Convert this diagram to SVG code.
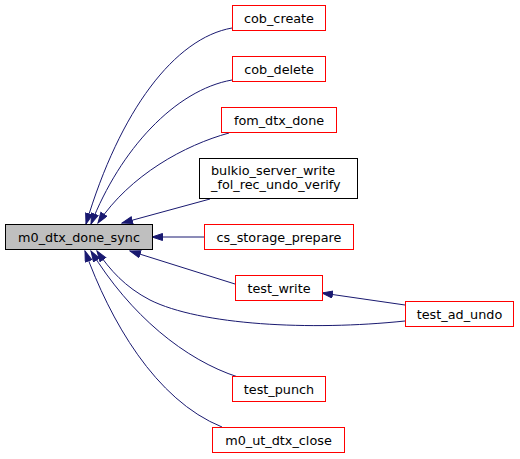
<svg xmlns="http://www.w3.org/2000/svg" width="520" height="459" viewBox="0 0 520 459">
<style>
text{font-family:"DejaVu Sans",sans-serif;font-size:12.8px;fill:#000}
.c{text-anchor:middle}
.r{fill:#fff;stroke:#ff0000;stroke-width:1}
.k{fill:#fff;stroke:#000;stroke-width:1}
.m{fill:#bfbfbf;stroke:#000;stroke-width:1}
.e{fill:none;stroke:#191970;stroke-width:1;marker-end:url(#a)}
</style>
<defs>
<marker id="a" markerUnits="userSpaceOnUse" markerWidth="12" markerHeight="10" refX="11" refY="4" orient="auto">
<path d="M0.5,0.5 L11,4 L0.5,7.5 z" fill="#191970" stroke="#191970" stroke-width="1"/>
</marker>
</defs>
<rect width="520" height="459" fill="#fff"/>
<g id="edges">
<path class="e" d="M232,28 C175,38 120,110 86,224"/>
<path class="e" d="M232,80 C175,90 120,150 91,224"/>
<path class="e" d="M229,133 C185,145 130,175 98,223"/>
<path class="e" d="M210,199 L122,223"/>
<path class="e" d="M204,237 L152,237"/>
<path class="e" d="M235,284 L130,251"/>
<path class="e" d="M405,321 C310,331 200,325 150,300 C125,287 110,270 97,251"/>
<path class="e" d="M405,305 L322,293"/>
<path class="e" d="M238,377 C185,360 130,315 91,251"/>
<path class="e" d="M222,427 C155,400 110,320 85,251"/>
</g>
<g id="n_main"><rect class="m" x="5.5" y="224.5" width="147" height="25"/><text class="c" x="79" y="241.5">m0_dtx_done_sync</text></g>
<g id="n_cob_create"><rect class="r" x="232.5" y="5.5" width="93" height="25"/><text class="c" x="279" y="22.5">cob_create</text></g>
<g id="n_cob_delete"><rect class="r" x="232.5" y="56.5" width="93" height="25"/><text class="c" x="279" y="73.5">cob_delete</text></g>
<g id="n_fom_dtx_done"><rect class="r" x="221.5" y="107.5" width="115" height="25"/><text class="c" x="279" y="124.5">fom_dtx_done</text></g>
<g id="n_bulkio"><rect class="k" x="199.5" y="158.5" width="158" height="40"/><text x="211" y="175">bulkio_server_write</text><text x="211" y="189">_fol_rec_undo_verify</text></g>
<g id="n_cs_storage_prepare"><rect class="r" x="204.5" y="224.5" width="149" height="25"/><text class="c" x="279" y="241.5">cs_storage_prepare</text></g>
<g id="n_test_write"><rect class="r" x="235.5" y="275.5" width="87" height="25"/><text class="c" x="279" y="292.5">test_write</text></g>
<g id="n_test_ad_undo"><rect class="r" x="405.5" y="301.5" width="108" height="25"/><text class="c" x="459.5" y="318.5">test_ad_undo</text></g>
<g id="n_test_punch"><rect class="r" x="232.5" y="376.5" width="93" height="25"/><text class="c" x="279" y="393.5">test_punch</text></g>
<g id="n_m0_ut_dtx_close"><rect class="r" x="212.5" y="427.5" width="132" height="25"/><text class="c" x="278.5" y="444.5">m0_ut_dtx_close</text></g>
</svg>
